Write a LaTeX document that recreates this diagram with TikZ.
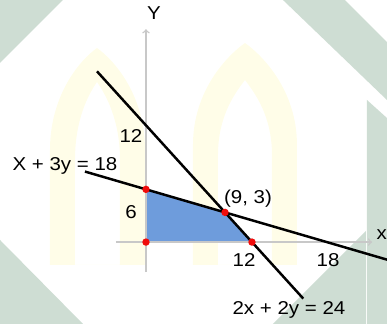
\documentclass[tikz,border=0pt]{standalone}
\usepackage{fontspec}
\setmainfont[FakeStretch=1.1]{Liberation Sans}
\usetikzlibrary{calc}

\definecolor{wmgreen}{RGB}{206,221,211}
\definecolor{wmyellow}{RGB}{255,253,232}
\definecolor{regionblue}{RGB}{110,156,220}
\definecolor{axisgrey}{RGB}{200,200,200}
\definecolor{dotred}{RGB}{240,12,12}

\tikzset{
  axisline/.style={axisgrey,line width=1.2pt,->},
  constraint/.style={black,line width=2pt},
  corner/.style={fill=dotred},
  lbl/.style={font=\fontsize{15}{18}\selectfont,inner sep=0pt},
}

\begin{document}
\begin{tikzpicture}[x=0.25cm,y=0.25cm,>=to]
  \useasboundingbox (-16.53,-9.29) rectangle (27.29,27.41);
  \clip (-16.53,-9.29) rectangle (27.29,27.41);
  % watermark (pixel units)
  \begin{scope}[shift={(-16.53,27.41)},x=0.02831cm,y=-0.02831cm]
    \fill[wmgreen] (0,0) -- (63,0) -- (0,63) -- cycle;
    \fill[wmgreen] (0,240) -- (83,324) -- (0,324) -- cycle;
    \fill[wmgreen] (283,0) -- (345,0) -- (387,42) -- (387,100) -- cycle;
    \fill[wmgreen] (367,100) -- (387,118) -- (387,324) -- (367,324) -- cycle;
    \fill[wmgreen] (273,324) -- (366,231) -- (366,324) -- cycle;
    \fill[wmyellow,even odd rule]
      (50,265) -- (50,150) .. controls (50,95) and (80,60) .. (97,48)
      .. controls (114,60) and (145,95) .. (145,150) -- (145,265) -- cycle
      (75,265) -- (75,160) .. controls (75,120) and (88,95) .. (97,82)
      .. controls (106,95) and (120,120) .. (120,160) -- (120,265) -- cycle;
    \fill[wmyellow,even odd rule]
      (193,265) -- (193,145) .. controls (193,90) and (228,55) .. (245,43)
      .. controls (262,55) and (297,90) .. (297,145) -- (297,265) -- cycle
      (218,265) -- (218,155) .. controls (218,115) and (236,92) .. (245,80)
      .. controls (254,92) and (272,115) .. (272,155) -- (272,265) -- cycle;
  \end{scope}

  \coordinate (O) at (0,0);
  \coordinate (A) at (0,5.97);
  \coordinate (B) at (8.95,3.36);
  \coordinate (C) at (12,0);
  \coordinate (xstart) at (-3.4,0);
  \coordinate (xend) at (25.6,0);
  \coordinate (ystart) at (0,-3.4);
  \coordinate (yend) at (0,24.1);

  % feasible region
  \fill[regionblue] (O) -- (A) -- (B) -- (C) -- cycle;
  \draw[axisline] (xstart) -- (xend);
  \draw[axisline] (ystart) -- (yend);

  % constraints
  \coordinate (l1a) at ($(A)!-0.772!(B)$);
  \coordinate (l1b) at ($(A)!3.1!(B)$);
  \coordinate (l2a) at ($(B)!-4.754!(C)$);
  \coordinate (l2b) at ($(B)!2.905!(C)$);
  \draw[constraint] (l1a) -- (l1b);
  \draw[constraint] (l2a) -- (l2b);

  \foreach \p in {O,A,B,C}
    \fill[corner] (\p) circle (0.42);

  \node[lbl] (ylab) at (0.91,25.93) {Y};
  \node[lbl,anchor=west] (xlab) at (26.1,0.9) {x};
  \node[lbl] (ytwelve) at (-1.70,12.0) {12};
  \node[lbl] (ysix) at (-1.70,3.40) {6};
  \node[lbl] (eqone) at (-9.17,8.61) {X + 3y = 18};
  \node[lbl] (vert) at (11.55,4.87) {(9, 3)};
  \node[lbl] (xtwelve) at (11.10,-2.04) {12};
  \node[lbl] (xeighteen) at (20.61,-2.04) {18};
  \node[lbl] (eqtwo) at (16.19,-7.70) {2x + 2y = 24};
\end{tikzpicture}
\end{document}
